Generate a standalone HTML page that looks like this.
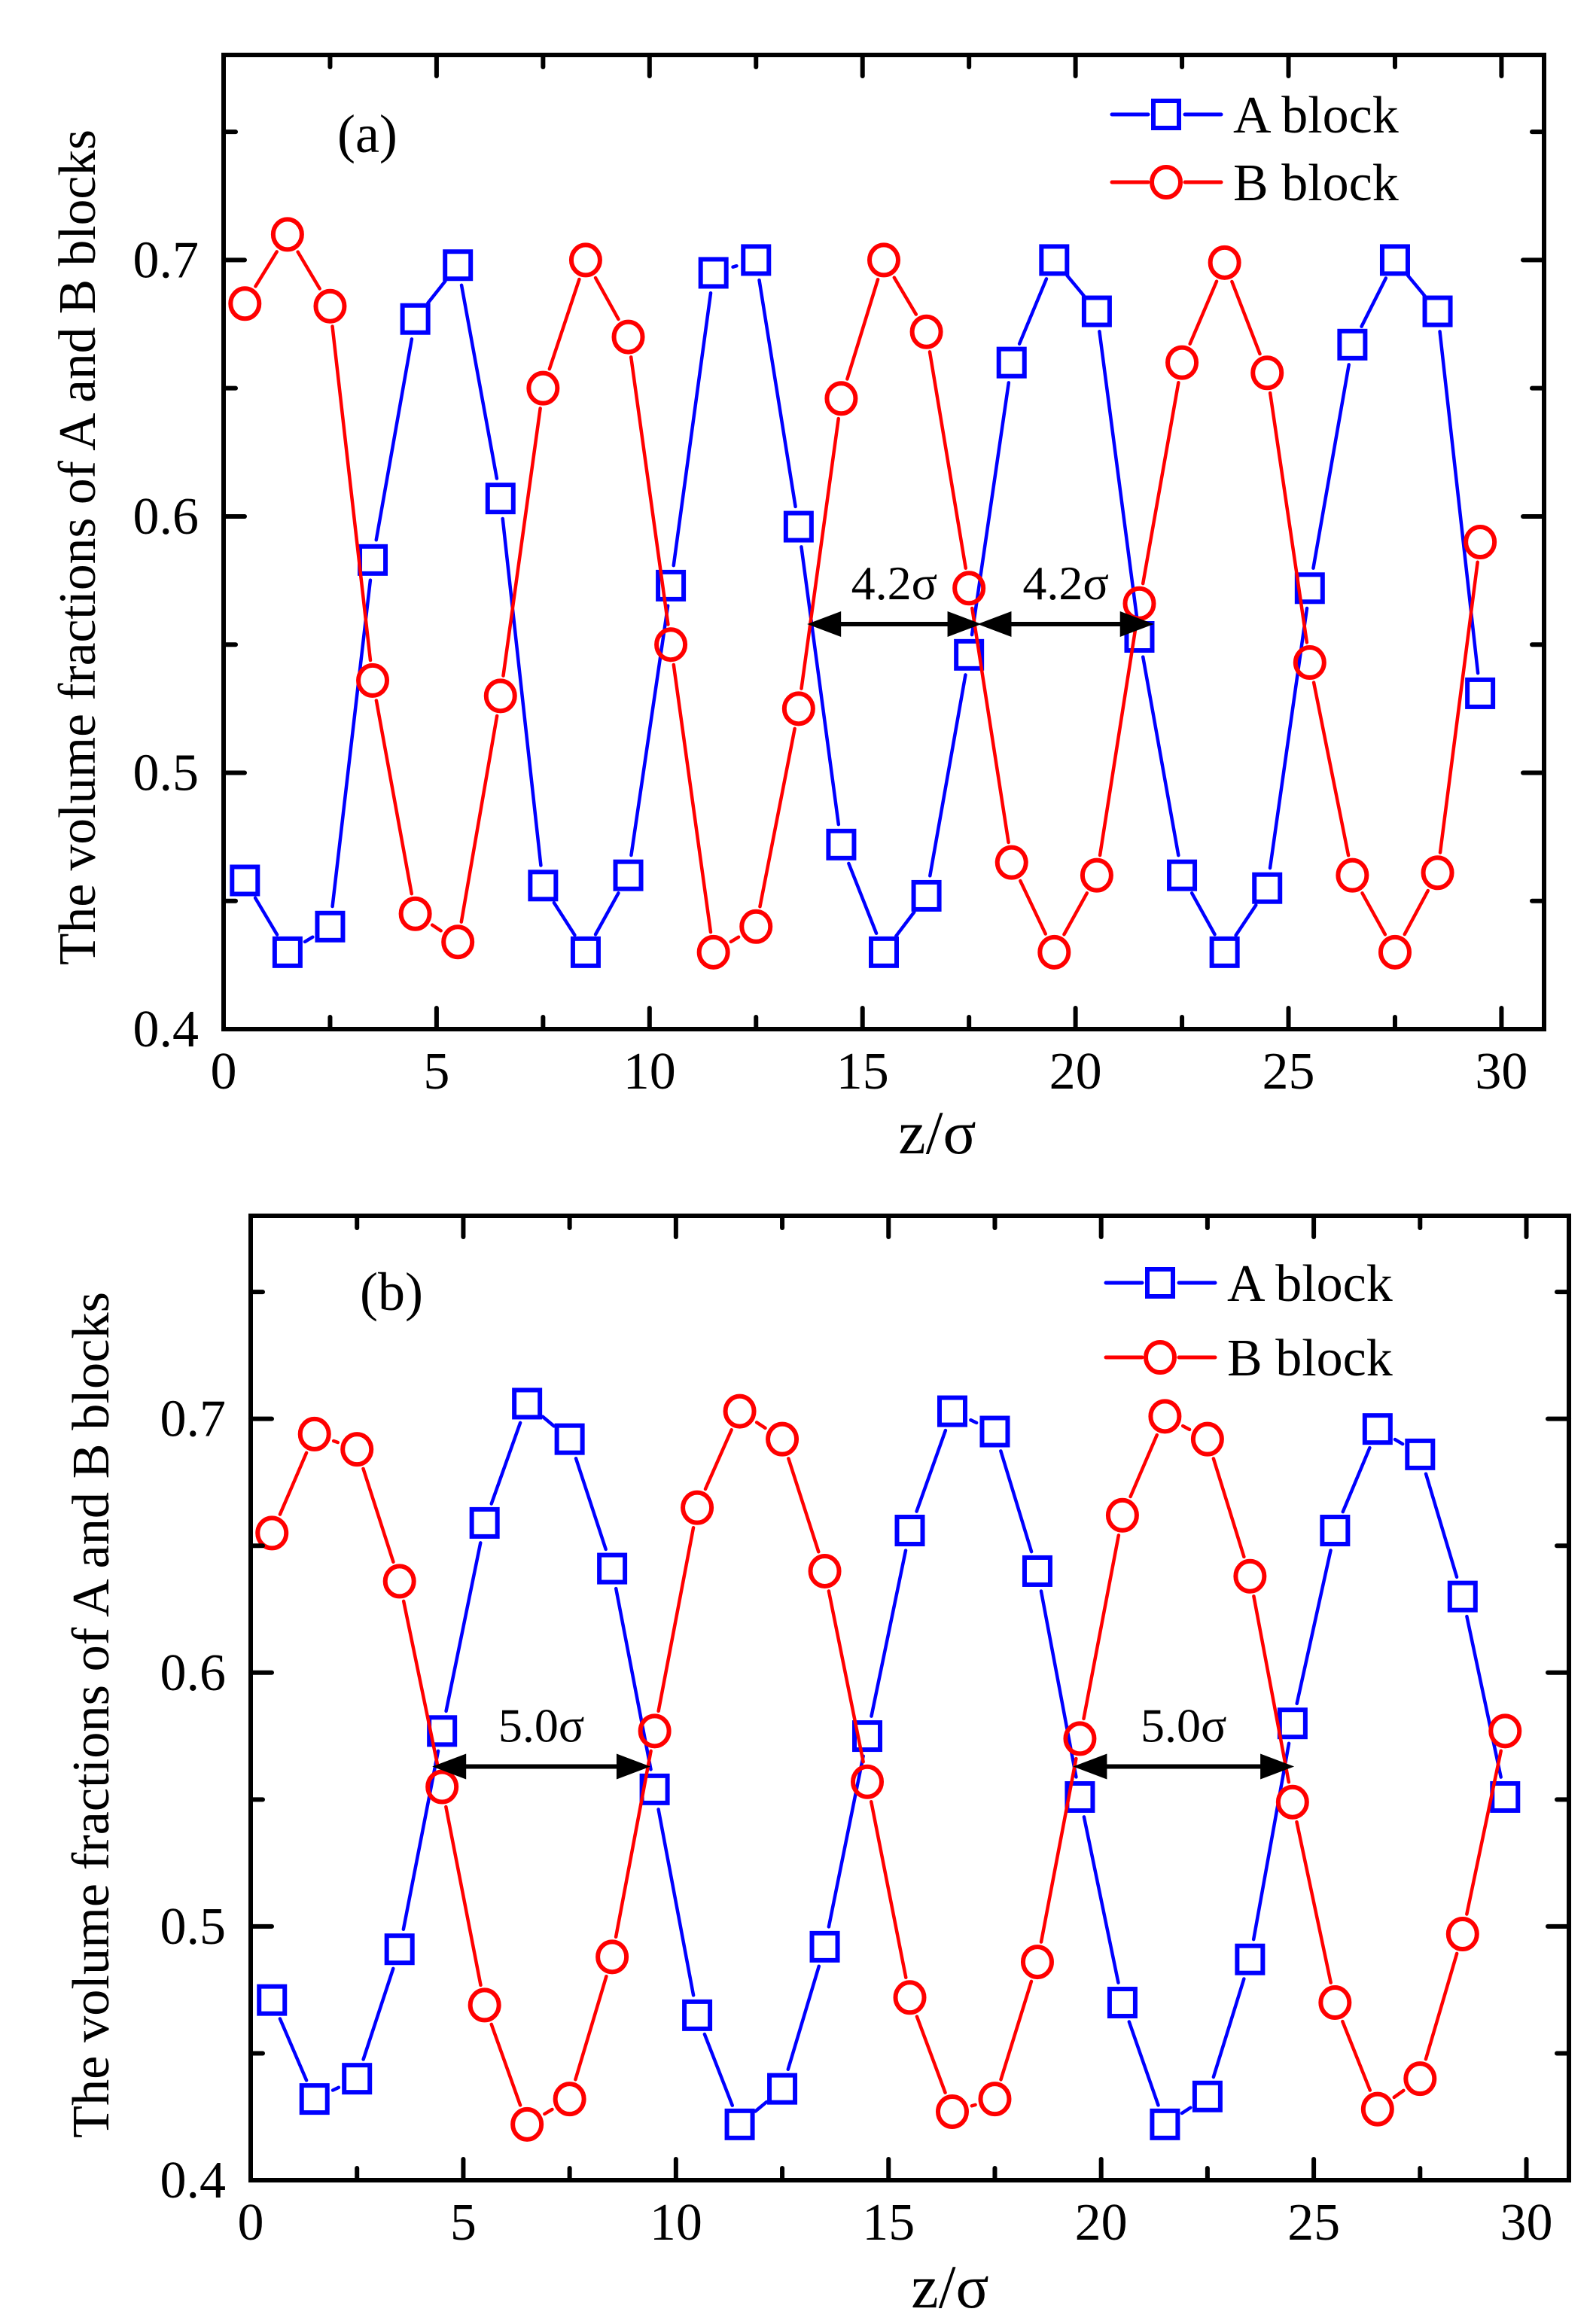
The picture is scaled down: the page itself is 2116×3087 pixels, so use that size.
<!DOCTYPE html>
<html><head><meta charset="utf-8"><style>
html,body{margin:0;padding:0;background:#fff;}
svg{display:block;}
text{font-family:"Liberation Serif",serif;fill:#000;}
</style></head><body>
<svg id="fig" width="2116" height="3087" viewBox="0 0 2116 3087" xmlns="http://www.w3.org/2000/svg"></svg>
<script>
// ---- data ----
const zValues = [0.5,1.5,2.5,3.5,4.5,5.5,6.5,7.5,8.5,9.5,10.5,11.5,12.5,13.5,14.5,15.5,16.5,17.5,18.5,19.5,20.5,21.5,22.5,23.5,24.5,25.5,26.5,27.5,28.5,29.5];
const aBlockA = [0.458,0.430,0.440,0.583,0.677,0.698,0.607,0.456,0.430,0.460,0.573,0.695,0.700,0.596,0.472,0.430,0.452,0.546,0.660,0.700,0.680,0.553,0.460,0.430,0.455,0.572,0.667,0.700,0.680,0.531];
const aBlockB = [0.683,0.710,0.682,0.536,0.445,0.434,0.530,0.650,0.700,0.670,0.550,0.430,0.440,0.525,0.646,0.700,0.672,0.572,0.465,0.430,0.460,0.566,0.660,0.699,0.656,0.543,0.460,0.430,0.461,0.590];
const bBlockA = [0.471,0.432,0.440,0.491,0.577,0.659,0.706,0.692,0.641,0.554,0.465,0.422,0.436,0.492,0.575,0.656,0.703,0.695,0.640,0.551,0.470,0.422,0.433,0.487,0.580,0.656,0.696,0.686,0.630,0.551];
const bBlockB = [0.655,0.694,0.688,0.636,0.555,0.469,0.422,0.432,0.488,0.577,0.665,0.703,0.692,0.640,0.557,0.472,0.427,0.432,0.486,0.574,0.662,0.701,0.692,0.638,0.549,0.470,0.428,0.440,0.497,0.577];
const xTickLabels = ["0","5","10","15","20","25","30"];
const xTickValues = [0,5,10,15,20,25,30];
const yTickLabels = ["0.4","0.5","0.6","0.7"];
const yTickValues = [0.4,0.5,0.6,0.7];
const aArrowStarts = [13.70,17.70];
const aArrowEnds = [17.79,21.84];
const aArrowY = [0.558,0.558];
const aArrowLabels = ["4.2σ","4.2σ"];
const bArrowStarts = [4.27,19.34];
const bArrowEnds = [9.40,24.54];
const bArrowY = [0.563,0.563];
const bArrowLabels = ["5.0σ","5.0σ"];

const NS="http://www.w3.org/2000/svg";
const svg=document.getElementById('fig');
function mk(tag,attrs,parent){const e=document.createElementNS(NS,tag);for(const k in attrs)e.setAttribute(k,attrs[k]);(parent||svg).appendChild(e);return e;}

function panel(cfg){
  const g=mk('g',{});
  
  
  const X=v=>cfg.left+(v-0)/(31-0)*(cfg.right-cfg.left);
  const Y=v=>cfg.bottom-(v-0.4)/(0.78-0.4)*(cfg.bottom-cfg.top);
  function series(vals,color,nm,marker){
    const sg=mk('g',{},g);
    
    
    for(let i=0;i<zValues.length-1;i++){
      const x1=X(zValues[i]),y1=Y(vals[i]),x2=X(zValues[i+1]),y2=Y(vals[i+1]);
      const dx=x2-x1,dy=y2-y1,L=Math.hypot(dx,dy),gap=27;
      if(L<2*gap+2)continue;
      const ux=dx/L,uy=dy/L;
      const ln=mk('line',{x1:x1+ux*gap,y1:y1+uy*gap,x2:x2-ux*gap,y2:y2-uy*gap,stroke:color,'stroke-width':4.5,'stroke-linecap':'round'},sg);
      
      
    }
    for(let i=0;i<zValues.length;i++){
      const cx=X(zValues[i]),cy=Y(vals[i]);let m;
      if(marker==='sq') m=mk('rect',{x:cx-17,y:cy-18,width:34,height:36,fill:'none',stroke:color,'stroke-width':6},sg);
      else m=mk('ellipse',{cx:cx,cy:cy,rx:19,ry:20,fill:'none',stroke:color,'stroke-width':6},sg);
      
      
    }
  }
  series(cfg.A,'#0000ff',cfg.name+'-a-block','sq');
  series(cfg.B,'#ff0000',cfg.name+'-b-block','ci');
  const fr=mk('rect',{x:cfg.left,y:cfg.top,width:cfg.right-cfg.left,height:cfg.bottom-cfg.top,fill:'none',stroke:'#000','stroke-width':6},g);
  
  
  for(let v=0;v<=30.01;v+=2.5){
    const maj=Math.abs(v%5)<0.01,len=maj?28:16,x=X(v);
    mk('line',{x1:x,y1:cfg.bottom,x2:x,y2:cfg.bottom-len,stroke:'#000','stroke-width':6,'stroke-linecap':'round'},g);
    mk('line',{x1:x,y1:cfg.top,x2:x,y2:cfg.top+len,stroke:'#000','stroke-width':6,'stroke-linecap':'round'},g);
  }
  for(let v=0.4;v<=0.7801;v+=0.05){
    const maj=Math.abs((v*100)%10)<0.5||Math.abs((v*100)%10)>9.5,len=maj?28:16,y=Y(v);
    mk('line',{x1:cfg.left,y1:y,x2:cfg.left+len,y2:y,stroke:'#000','stroke-width':6,'stroke-linecap':'round'},g);
    mk('line',{x1:cfg.right,y1:y,x2:cfg.right-len,y2:y,stroke:'#000','stroke-width':6,'stroke-linecap':'round'},g);
  }
  xTickLabels.forEach((t,i)=>{
    const e=mk('text',{x:X(xTickValues[i]),y:cfg.bottom+79,'font-size':70,'text-anchor':'middle'},g);e.textContent=t;
    
    
  });
  yTickLabels.forEach((t,i)=>{
    const e=mk('text',{x:cfg.left-33,y:Y(yTickValues[i])+23,'font-size':70,'text-anchor':'end'},g);e.textContent=t;
    
    
  });
  const xt=mk('text',{x:cfg.xtX,y:cfg.xtY,'font-size':82,'text-anchor':'middle'},g);xt.textContent='z/σ';
  
  
  const yt=mk('text',{x:0,y:0,'font-size':70,'text-anchor':'middle',transform:`translate(${cfg.ytX},${cfg.ytY}) rotate(-90)`,textLength:cfg.ytLen,lengthAdjust:'spacingAndGlyphs'},g);
  yt.textContent='The volume fractions of A and B blocks';
  
  
  const pl=mk('text',{x:cfg.plX,y:cfg.plY,'font-size':72},g);pl.textContent=cfg.label;
  
  
  cfg.arrS.forEach((s,i)=>{
    const x1=X(s),x2=X(cfg.arrE[i]),y=Y(cfg.arrY[i]);
    const ag=mk('g',{},g);
    
    
    mk('line',{x1:x1+40,y1:y,x2:x2-40,y2:y,stroke:'#000','stroke-width':6},ag);
    mk('polygon',{points:`${x1},${y} ${x1+45},${y-17} ${x1+45},${y+17}`,fill:'#000'},ag);
    mk('polygon',{points:`${x2},${y} ${x2-45},${y-17} ${x2-45},${y+17}`,fill:'#000'},ag);
    const t=mk('text',{x:(x1+x2)/2,y:y-33,'font-size':64,'text-anchor':'middle'},ag);t.textContent=cfg.arrL[i];
    
    
  });
  [['A block','#0000ff','sq',cfg.lgY1],['B block','#ff0000','ci',cfg.lgY2]].forEach(([lab,c,m,y])=>{
    const lg=mk('g',{},g);
    
    
    mk('line',{x1:cfg.lgX,y1:y,x2:cfg.lgX+48,y2:y,stroke:c,'stroke-width':5,'stroke-linecap':'round'},lg);
    mk('line',{x1:cfg.lgX+97,y1:y,x2:cfg.lgX+145,y2:y,stroke:c,'stroke-width':5,'stroke-linecap':'round'},lg);
    const cx=cfg.lgX+72;
    if(m==='sq') mk('rect',{x:cx-17,y:y-18,width:34,height:36,fill:'none',stroke:c,'stroke-width':6},lg);
    else mk('ellipse',{cx:cx,cy:y,rx:19,ry:20,fill:'none',stroke:c,'stroke-width':6},lg);
    const t=mk('text',{x:cfg.lgX+161,y:y+24,'font-size':70},lg);t.textContent=lab;
  });
}
panel({name:'panel-a',left:297,right:2051,top:73,bottom:1367,A:aBlockA,B:aBlockB,
  xtX:1245,xtY:1532,ytX:126,ytY:727,ytLen:1110,plX:448,plY:202,label:'(a)',
  arrS:aArrowStarts,arrE:aArrowEnds,arrY:aArrowY,arrL:aArrowLabels,lgX:1477,lgY1:152,lgY2:242});
panel({name:'panel-b',left:333,right:2084,top:1615,bottom:2896,A:bBlockA,B:bBlockB,
  xtX:1262,xtY:3065,ytX:144,ytY:2278,ytLen:1124,plX:478,plY:1740,label:'(b)',
  arrS:bArrowStarts,arrE:bArrowEnds,arrY:bArrowY,arrL:bArrowLabels,lgX:1469,lgY1:1704,lgY2:1803});
</script>
</body></html>
